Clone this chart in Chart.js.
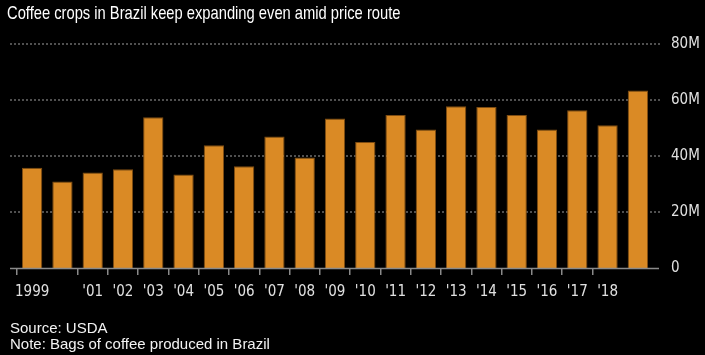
<!DOCTYPE html>
<html>
<head>
<meta charset="utf-8">
<script src="https://cdn.jsdelivr.net/npm/chart.js@4"></script>
<style>
  html, body { margin:0; padding:0; background:#000; }
  #wrap { position:relative; width:705px; height:355px; background:#000; overflow:hidden; }
  #c { position:absolute; left:0; top:0; }
  .t { position:absolute; color:#fff; white-space:nowrap; }
  #title { left:7px; top:3px; font:19px "Liberation Sans",Arial,sans-serif; line-height:19px; transform:scaleX(0.775); transform-origin:0 0; }
  #src { left:10px; top:320px; font:15px "Liberation Sans",Arial,sans-serif; line-height:15px; color:#f2f2f2; }
  #note { left:10px; top:336px; font:15px "Liberation Sans",Arial,sans-serif; line-height:15px; color:#f2f2f2; }
</style>
</head>
<body>
<div id="wrap">
  <canvas id="c" width="705" height="355"></canvas>
  <div class="t" id="title">Coffee crops in Brazil keep expanding even amid price route</div>
  <div class="t" id="src">Source: USDA</div>
  <div class="t" id="note">Note: Bags of coffee produced in Brazil</div>
</div>
<script>
const years = [1999,2000,2001,2002,2003,2004,2005,2006,2007,2008,2009,2010,2011,2012,2013,2014,2015,2016,2017,2018,2019];
const tickLabels = ['1999','',"'01","'02","'03","'04","'05","'06","'07","'08","'09","'10","'11","'12","'13","'14","'15","'16","'17","'18",''];
const bagsMillions = [35.8,30.9,34.1,35.3,53.8,33.4,43.8,36.3,47.0,39.5,53.4,45.0,54.6,49.5,57.8,57.5,54.6,49.5,56.3,51.0,63.4];
const yTicks = [0,20,40,60,80];

const bagsValues = bagsMillions.map(v => v * 1e6);

const gridPlugin = {
  id: 'bbgGrid',
  beforeDatasetsDraw(chart) {
    const ctx = chart.ctx;
    const y = chart.scales.y;
    ctx.save();
    ctx.strokeStyle = '#505050';
    ctx.lineWidth = 2;
    ctx.setLineDash([2, 2]);
    yTicks.forEach(t => {
      if (t === 0) return;
      const py = Math.round(y.getPixelForValue(t * 1e6));
      ctx.beginPath();
      ctx.moveTo(10, py);
      ctx.lineTo(660, py);
      ctx.stroke();
    });
    ctx.restore();
  },
  afterDatasetsDraw(chart) {
    const ctx = chart.ctx;
    const y = chart.scales.y;
    const py = y.getPixelForValue(0) + 0.5;
    ctx.save();
    ctx.strokeStyle = '#8a8a8a';
    ctx.lineWidth = 1.5;
    ctx.beginPath();
    ctx.moveTo(10, py);
    ctx.lineTo(659, py);
    ctx.stroke();
    ctx.restore();
  }
};

new Chart(document.getElementById('c'), {
  type: 'bar',
  data: {
    labels: tickLabels,
    datasets: [{
      data: bagsValues,
      backgroundColor: '#da8a25',
      borderColor: '#7e4c12',
      borderWidth: 1,
      borderSkipped: 'bottom',
      categoryPercentage: 1,
      barPercentage: 0.67
    }]
  },
  options: {
    responsive: false,
    animation: false,
    devicePixelRatio: 1,
    layout: { padding: { left: 17, top: 44, right: 0, bottom: 0 } },
    plugins: { legend: { display: false }, tooltip: { enabled: false }, title: { display: false } },
    scales: {
      x: {
        offset: true,
        border: { display: false },
        grid: {
          display: true,
          drawOnChartArea: false,
          drawTicks: true,
          tickLength: 7,
          lineWidth: 1.5,
          color: c => (tickLabels[c.index] ? '#8a8a8a' : 'rgba(0,0,0,0)')
        },
        ticks: {
          autoSkip: false,
          maxRotation: 0,
          minRotation: 0,
          padding: 8,
          color: '#e0e0e0',
          font: { family: '"DejaVu Sans Condensed","DejaVu Sans",sans-serif', size: 15 }
        },
        afterFit: s => { s.height = 87; }
      },
      y: {
        position: 'right',
        min: 0,
        max: 80e6,
        border: { display: false },
        grid: { display: false, drawTicks: false },
        afterBuildTicks: s => { s.ticks = yTicks.map(v => ({ value: v * 1e6 })); },
        ticks: {
          padding: 18,
          color: '#e0e0e0',
          font: { family: '"DejaVu Sans Condensed","DejaVu Sans",sans-serif', size: 15 },
          callback: v => (v === 0 ? '0' : (v / 1e6) + 'M')
        },
        afterFit: s => { s.width = 52; }
      }
    }
  },
  plugins: [gridPlugin]
});
</script>
</body>
</html>
